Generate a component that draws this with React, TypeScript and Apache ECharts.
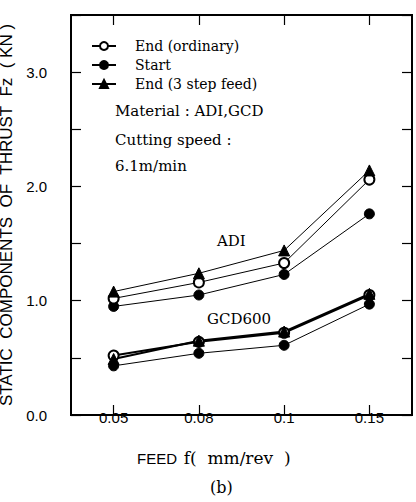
import React, { useEffect, useRef } from "react";
import * as echarts from "echarts";

const feeds = ["0.05", "0.08", "0.1", "0.15"];
const adiEndOrdinary = [1.02, 1.16, 1.33, 2.06];
const adiStart = [0.95, 1.05, 1.23, 1.76];
const adiEnd3Step = [1.08, 1.24, 1.44, 2.14];
const gcdEndOrdinary = [0.52, 0.64, 0.72, 1.05];
const gcdStart = [0.43, 0.54, 0.61, 0.97];
const gcdEnd3Step = [0.49, 0.65, 0.73, 1.06];

const NAME_ORD = "End (ordinary)";
const NAME_START = "Start";
const NAME_3STEP = "End (3 step feed)";

export default function App() {
  const ref = useRef<HTMLDivElement>(null);
  useEffect(() => {
    if (!ref.current) return;
    const chart = echarts.init(ref.current, null, { renderer: "svg" });
    const sans = "Liberation Sans";
    const serif = "DejaVu Serif";
    const mk = (name: string, data: number[], symbol: string, width: number) => ({
      type: "line",
      name,
      data,
      symbol,
      symbolSize: symbol === "triangle" ? 11 : 10,
      lineStyle: { color: "#000", width },
      itemStyle: { color: "#000", borderColor: "#000", borderWidth: 1 },
    });
    const tick = () => ({ show: true, inside: true, length: 10, lineStyle: { color: "#000", width: 1.2 } });
    const aline = () => ({ show: true, onZero: false, lineStyle: { color: "#000", width: 2 } });
    const txt = (text: string, x: number, y: number, size: number, family = serif) => ({
      type: "text",
      x,
      y,
      style: { text, font: `${size}px "${family}"`, fill: "#000", align: "left", verticalAlign: "middle" },
    });
    chart.setOption({
      animation: false,
      backgroundColor: "#fff",
      grid: {
        left: 71,
        right: 4,
        top: 15,
        bottom: 87,
        outerBoundsMode: "none",
        show: true,
        borderColor: "#000",
        borderWidth: 2,
      },
      legend: {
        data: [NAME_ORD, NAME_START, NAME_3STEP],
        orient: "vertical",
        left: 86,
        top: 34,
        itemWidth: 24,
        itemHeight: 10,
        itemGap: 5,
        textStyle: { fontFamily: serif, fontSize: 14, color: "#000", padding: [0, 0, 0, 14] },
      },
      xAxis: [
        {
          type: "category",
          data: feeds,
          position: "bottom",
          axisLine: aline(),
          axisTick: { ...tick(), alignWithLabel: true },
          splitLine: { show: false },
          axisLabel: { fontFamily: sans, fontSize: 15, color: "#000", margin: -5 },
        },
        {
          type: "category",
          data: feeds,
          position: "top",
          axisLine: aline(),
          axisTick: { ...tick(), alignWithLabel: true },
          splitLine: { show: false },
          axisLabel: { show: false },
        },
      ],
      yAxis: [
        {
          type: "value",
          min: 0,
          max: 3.5,
          interval: 0.5,
          position: "left",
          axisLine: aline(),
          axisTick: tick(),
          splitLine: { show: false },
          name: "STATIC  COMPONENTS  OF  THRUST  Fz  ( KN )",
          nameLocation: "middle",
          nameGap: 40,
          nameTextStyle: { fontFamily: sans, fontSize: 17, color: "#000" },
          axisLabel: {
            fontFamily: sans,
            fontSize: 15,
            color: "#000",
            margin: 24,
            formatter: (v: number) => (Math.abs(v % 1) < 1e-9 ? v.toFixed(1) : ""),
          },
        },
        {
          type: "value",
          min: 0,
          max: 3.5,
          interval: 0.5,
          position: "right",
          axisLine: aline(),
          axisTick: tick(),
          splitLine: { show: false },
          axisLabel: { show: false },
        },
      ],
      graphic: [
        {
          type: "line",
          z: 1000,
          silent: true,
          shape: { x1: 71, y1: 15, x2: 412, y2: 15 },
          style: { stroke: "#000", lineWidth: 2 },
        },
        {
          type: "line",
          z: 1000,
          silent: true,
          shape: { x1: 412, y1: 15, x2: 412, y2: 415 },
          style: { stroke: "#000", lineWidth: 2 },
        },
        txt("Material : ADI,GCD", 115, 111, 15),
        txt("Cutting speed :", 115, 140, 15),
        txt("6.1m/min", 115, 166, 15),
        txt("ADI", 217, 241, 15),
        txt("GCD600", 207, 319, 15),
        {
          type: "text",
          x: 137,
          y: 458,
          style: {
            text: "{a|FEED}  {b|f(  mm/rev  )}",
            verticalAlign: "middle",
            rich: {
              a: { fontFamily: sans, fontSize: 15, fill: "#000" },
              b: { fontFamily: serif, fontSize: 17, fill: "#000" },
            },
          },
        },
        txt("(b)", 210, 487, 16),
      ],
      series: [
        mk(NAME_START, adiStart, "circle", 1),
        mk(NAME_ORD, adiEndOrdinary, "emptyCircle", 1),
        mk(NAME_3STEP, adiEnd3Step, "triangle", 1),
        mk(NAME_START, gcdStart, "circle", 1),
        mk(NAME_ORD, gcdEndOrdinary, "emptyCircle", 2),
        mk(NAME_3STEP, gcdEnd3Step, "triangle", 2),
      ],
    });
    return () => chart.dispose();
  }, []);
  return <div ref={ref} style={{ width: 416, height: 502, position: "absolute", left: 0, top: 0 }} />;
}
